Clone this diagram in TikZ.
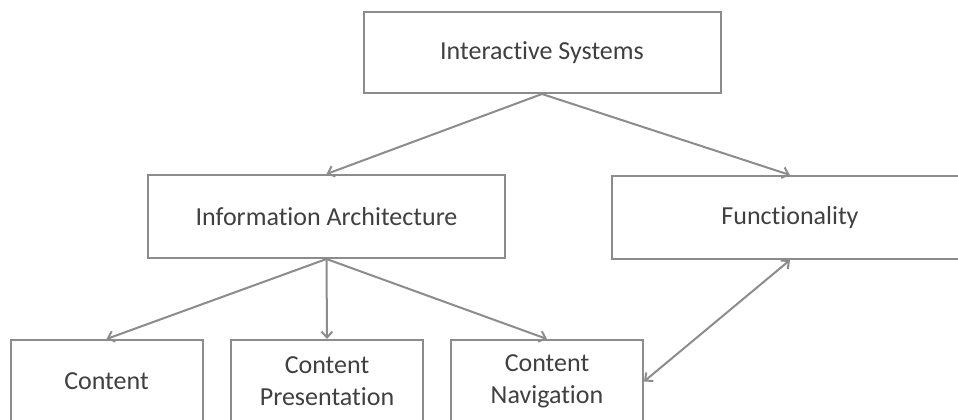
\documentclass[tikz,border=0pt]{standalone}
\usepackage{fontspec}
\setmainfont[Ligatures=NoCommon]{Carlito}
\usepackage{xcolor}
\usepackage{tikz}
\usetikzlibrary{arrows.meta,positioning}
\definecolor{boxgray}{HTML}{8C8C8C}
\definecolor{textgray}{HTML}{404040}

\begin{document}
\begin{tikzpicture}[x=1pt,y=-1pt,
    box/.style={draw=boxgray,line width=2pt,fill=white,text=textgray,
        align=center,inner sep=0pt,font=\fontsize{26}{32}\selectfont},
    wide/.style={box,minimum width=357pt,minimum height=81pt},
    small/.style={box,minimum width=192pt,minimum height=83pt},
    link/.style={draw=boxgray,line width=2pt,-{Straight Barb[length=6pt,width=11pt]}},
    twoway/.style={link,{Straight Barb[length=6pt,width=11pt]}-{Straight Barb[length=6pt,width=11pt]}}]
    % Frame of the picture
    \useasboundingbox (0,0) rectangle (958,420);
    \clip (0,0) rectangle (958,420);

    % Top level
    \node[wide] (sys) at (542,52.5) {Interactive Systems};

    % Second level
    \node[wide,minimum height=83pt] (infoarch) at (326.5,216.5) {Information Architecture};
    \node[wide,minimum height=83pt] (func) at (790,217.5) {Functionality};

    % Third level
    \node[small] (content) at (106.5,381.5) {Content};
    \node[small] (contpres) at (327,381.5) {Content\\Presentation};
    \node[small] (contnav) at (547,381.5) {Content\\Navigation};

    % Connectors
    \draw[link] (sys.south) -- (infoarch.north);
    \draw[link] (sys.south) -- (func.north);
    \draw[link] (infoarch.south) -- (content.north);
    \draw[link] (infoarch.south) -- (contpres.north);
    \draw[link] (infoarch.south) -- (contnav.north);
    \draw[twoway] (contnav.east) -- (func.south);

\end{tikzpicture}
\end{document}
